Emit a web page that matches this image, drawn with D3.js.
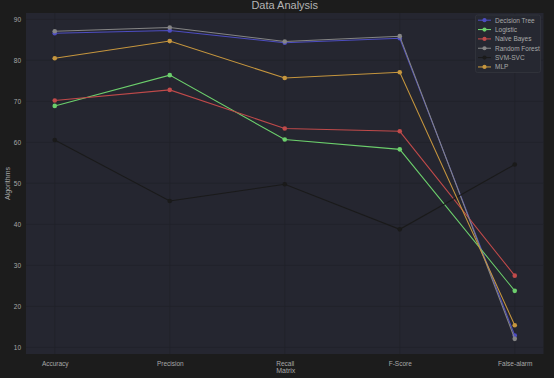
<!DOCTYPE html>
<html>
<head>
<meta charset="utf-8">
<script src="https://cdn.jsdelivr.net/npm/d3@7"></script>
<style>
  html, body { margin: 0; padding: 0; background: #1c1c1c; }
  svg { display: block; }
  text { font-family: "Liberation Sans", Arial, sans-serif; }
</style>
</head>
<body>
<svg id="chart" width="554" height="378"></svg>
<script>
const categories = ["Accuracy", "Precision", "Recall", "F-Score", "False-alarm"];
const seriesNames = ["Decision Tree", "Logistic", "Naive Bayes", "Random Forest", "SVM-SVC", "MLP"];
const decisionTree = [86.6, 87.3, 84.3, 85.4, 12.9];
const logistic     = [68.9, 76.4, 60.7, 58.3, 23.8];
const naiveBayes   = [70.2, 72.8, 63.4, 62.7, 27.5];
const randomForest = [87.1, 88.0, 84.6, 85.9, 12.1];
const svmSvc       = [60.6, 45.7, 49.8, 38.8, 54.6];
const mlp          = [80.5, 84.7, 75.7, 77.1, 15.4];
const yTicks = [10, 20, 30, 40, 50, 60, 70, 80, 90];
const seriesColors = ["#4d4dc0", "#6ccf6c", "#c04a4a", "#858585", "#1a1a1a", "#c6963e"];

const seriesValues = [decisionTree, logistic, naiveBayes, randomForest, svmSvc, mlp];
const series = seriesNames.map((name, i) => ({ name, values: seriesValues[i], color: seriesColors[i] }));

const svg = d3.select("#chart");
const W = 554, H = 378;
const plot = { left: 26, top: 13, right: 543.5, bottom: 354 };

svg.append("rect").attr("width", W).attr("height", H).attr("fill", "#1c1c1c");
svg.append("rect").attr("x", plot.left).attr("y", plot.top)
  .attr("width", plot.right - plot.left).attr("height", plot.bottom - plot.top)
  .attr("fill", "#252630");

const x = d3.scalePoint().domain(categories).range([plot.left, plot.right]).padding(0.25);
const y = d3.scaleLinear().domain([8.4, 91.55]).range([plot.bottom, plot.top]);

// grid
const g = svg.append("g");
g.selectAll(".hgrid").data(yTicks).join("line")
  .attr("x1", plot.left).attr("x2", plot.right)
  .attr("y1", d => y(d)).attr("y2", d => y(d))
  .attr("stroke", "#21222a").attr("stroke-width", 0.8);
g.selectAll(".vgrid").data(categories).join("line")
  .attr("y1", plot.top).attr("y2", plot.bottom)
  .attr("x1", d => x(d)).attr("x2", d => x(d))
  .attr("stroke", "#21222a").attr("stroke-width", 0.8);

// axes
const yAxis = d3.axisLeft(y).tickValues(yTicks).tickSize(0).tickPadding(5);
const yg = svg.append("g").attr("transform", `translate(${plot.left},0)`).call(yAxis);
yg.select(".domain").remove();
yg.selectAll("text").attr("fill", "#a8a8a8").attr("font-size", 6.5);

const xAxis = d3.axisBottom(x).tickSize(0).tickPadding(7);
const xg = svg.append("g").attr("transform", `translate(0,${plot.bottom})`).call(xAxis);
xg.select(".domain").remove();
xg.selectAll("text").attr("fill", "#a8a8a8").attr("font-size", 6.5);

// labels
svg.append("text").attr("x", (plot.left + plot.right) / 2).attr("y", 9)
  .attr("text-anchor", "middle").attr("fill", "#b4b4b4").attr("font-size", 11)
  .text("Data Analysis");
svg.append("text").attr("x", (plot.left + plot.right) / 2 + 1).attr("y", 372.5)
  .attr("text-anchor", "middle").attr("fill", "#a8a8a8").attr("font-size", 7)
  .text("Matrix");
svg.append("text").attr("transform", `translate(9.5,${(plot.top + plot.bottom) / 2}) rotate(-90)`)
  .attr("text-anchor", "middle").attr("fill", "#a8a8a8").attr("font-size", 7)
  .text("Algorithms");

// lines
const line = d3.line().x((d, i) => x(categories[i])).y(d => y(d));
const sg = svg.append("g");
series.forEach(s => {
  sg.append("path").datum(s.values).attr("d", line)
    .attr("fill", "none").attr("stroke", s.color).attr("stroke-width", 1.05);
  sg.selectAll(null).data(s.values).join("circle")
    .attr("cx", (d, i) => x(categories[i])).attr("cy", d => y(d)).attr("r", 2.3)
    .attr("fill", s.color);
});

// legend
const lg = svg.append("g");
lg.append("rect").attr("x", 475.5).attr("y", 15).attr("width", 65).attr("height", 57.5)
  .attr("rx", 2).attr("fill", "#262831").attr("stroke", "#34353d").attr("stroke-width", 0.8);
series.forEach((s, i) => {
  const yy = 20.2 + i * 9.35;
  lg.append("line").attr("x1", 478).attr("x2", 491).attr("y1", yy).attr("y2", yy)
    .attr("stroke", s.color).attr("stroke-width", 1.05);
  lg.append("circle").attr("cx", 484.5).attr("cy", yy).attr("r", 2.1).attr("fill", s.color);
  lg.append("text").attr("x", 495).attr("y", yy + 2.3).attr("fill", "#a8a8a8")
    .attr("font-size", 6.5).text(s.name);
});
</script>
</body>
</html>
